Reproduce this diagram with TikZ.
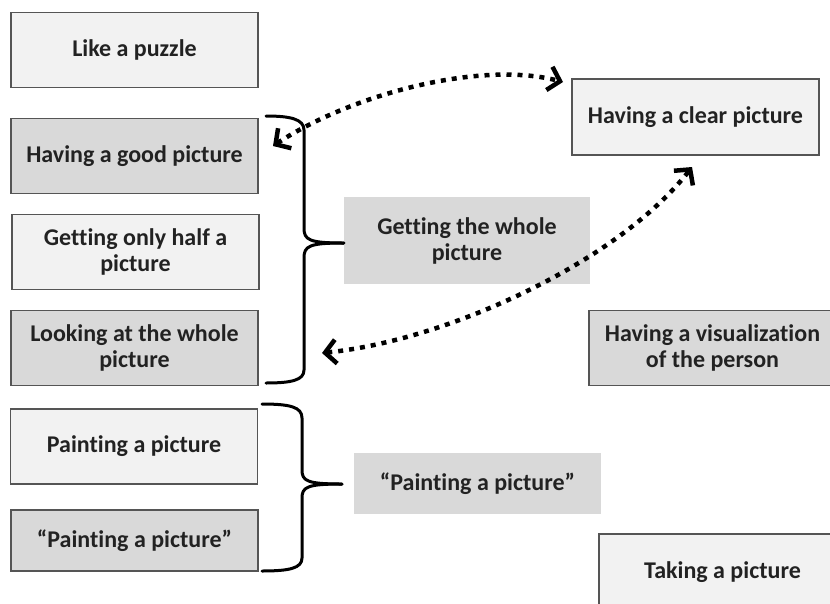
\documentclass[tikz,border=0pt]{standalone}
\usepackage{fontspec}
\setmainfont{Carlito}[Ligatures=NoCommon]
\usetikzlibrary{arrows.meta}

\definecolor{paleFill}{HTML}{F2F2F2}
\definecolor{greyFill}{HTML}{D9D9D9}
\definecolor{edgeGrey}{HTML}{555555}
\definecolor{inkDark}{HTML}{222222}

\tikzset{
  card/.style={minimum width=247pt, minimum height=75pt, inner sep=0pt,
    align=center, text=inkDark, font=\fontsize{24}{26}\selectfont\bfseries},
  pale/.style={card, fill=paleFill, draw=edgeGrey, line width=1.2pt},
  shaded/.style={card, fill=greyFill, draw=edgeGrey, line width=1.2pt},
  plain/.style={card, fill=greyFill, draw=none},
  bracket/.style={draw=black, line width=3pt, line cap=round, line join=round},
  barb/.style={Straight Barb[length=11pt,width=24pt,line width=4.5pt]},
  linkarrow/.style={draw=black, line width=4.5pt, dash pattern=on 5pt off 6pt,
    {Straight Barb[length=11pt,width=24pt,line width=4.5pt]}-{Straight Barb[length=11pt,width=24pt,line width=4.5pt]}}
}

\begin{document}
\begin{tikzpicture}[x=1pt, y=-1pt]
  \useasboundingbox (0,0) rectangle (830,603);
  \clip (0,0) rectangle (830,603);
  \fill[white] (0,0) rectangle (830,603);

  % left column of cards
  \node[pale]   (puzzle) at (134.5,50)   {Like a puzzle};
  \node[shaded] (good)   at (134.5,156)  {Having a good picture};
  \node[pale]   (half)   at (135.5,252)  {Getting only half a\\picture};
  \node[shaded] (look)   at (134.5,348)  {Looking at the whole\\picture};
  \node[pale]   (paintA) at (134,446.5)  {Painting a picture};
  \node[shaded, minimum height=61pt] (paintB) at (134.5,540.5) {“Painting a picture”};

  % middle and right cards
  \node[plain, minimum width=246pt, minimum height=87pt] (whole) at (467,240.5) {Getting the whole\\picture};
  \node[plain, minimum height=61pt] (paintC) at (477.5,483.5) {“Painting a picture”};
  \node[pale, minimum height=76pt] (clear) at (695.5,117) {Having a clear picture};
  \node[shaded] (visual) at (712.5,348) {Having a visualization\\of the person};
  \node[pale, minimum height=76pt] (taking) at (722.5,572) {Taking a picture};

  % upper brace grouping four cards
  \coordinate (braceTopA) at (266,116);
  \coordinate (braceBotA) at (266,383);
  \coordinate (braceTipA) at (whole.west |- 0,243);
  \draw[bracket] (braceTopA) .. controls (290,116) and (304,119) .. (304,130)
    -- (304,228) .. controls (304,240) and (309,243) .. (braceTipA);
  \draw[bracket] (braceTipA) .. controls (309,243) and (304,246) .. (304,258)
    -- (304,370) .. controls (304,380) and (292,383) .. (braceBotA);

  % lower brace grouping two cards
  \coordinate (braceTopB) at (262,404);
  \coordinate (braceBotB) at (262,571);
  \coordinate (braceTipB) at (342,484);
  \draw[bracket] (braceTopB) .. controls (290,404) and (302,407) .. (302,418)
    -- (302,470) .. controls (302,481) and (307,484) .. (braceTipB);
  \draw[bracket] (braceTipB) .. controls (307,484) and (302,487) .. (302,498)
    -- (302,558) .. controls (302,568) and (290,571) .. (braceBotB);

  % dotted double arrows
  \coordinate (arrowAStart) at (273,146);
  \coordinate (arrowAEnd) at (563,82);
  \coordinate (arrowBStart) at (322,353);
  \coordinate (arrowBEnd) at (692,167);
  \draw[linkarrow] (arrowAStart) .. controls (350,95) and (480,60) .. (arrowAEnd);
  \draw[linkarrow] (arrowBStart) .. controls (450,340) and (620,260) .. (arrowBEnd);
\end{tikzpicture}
\end{document}
